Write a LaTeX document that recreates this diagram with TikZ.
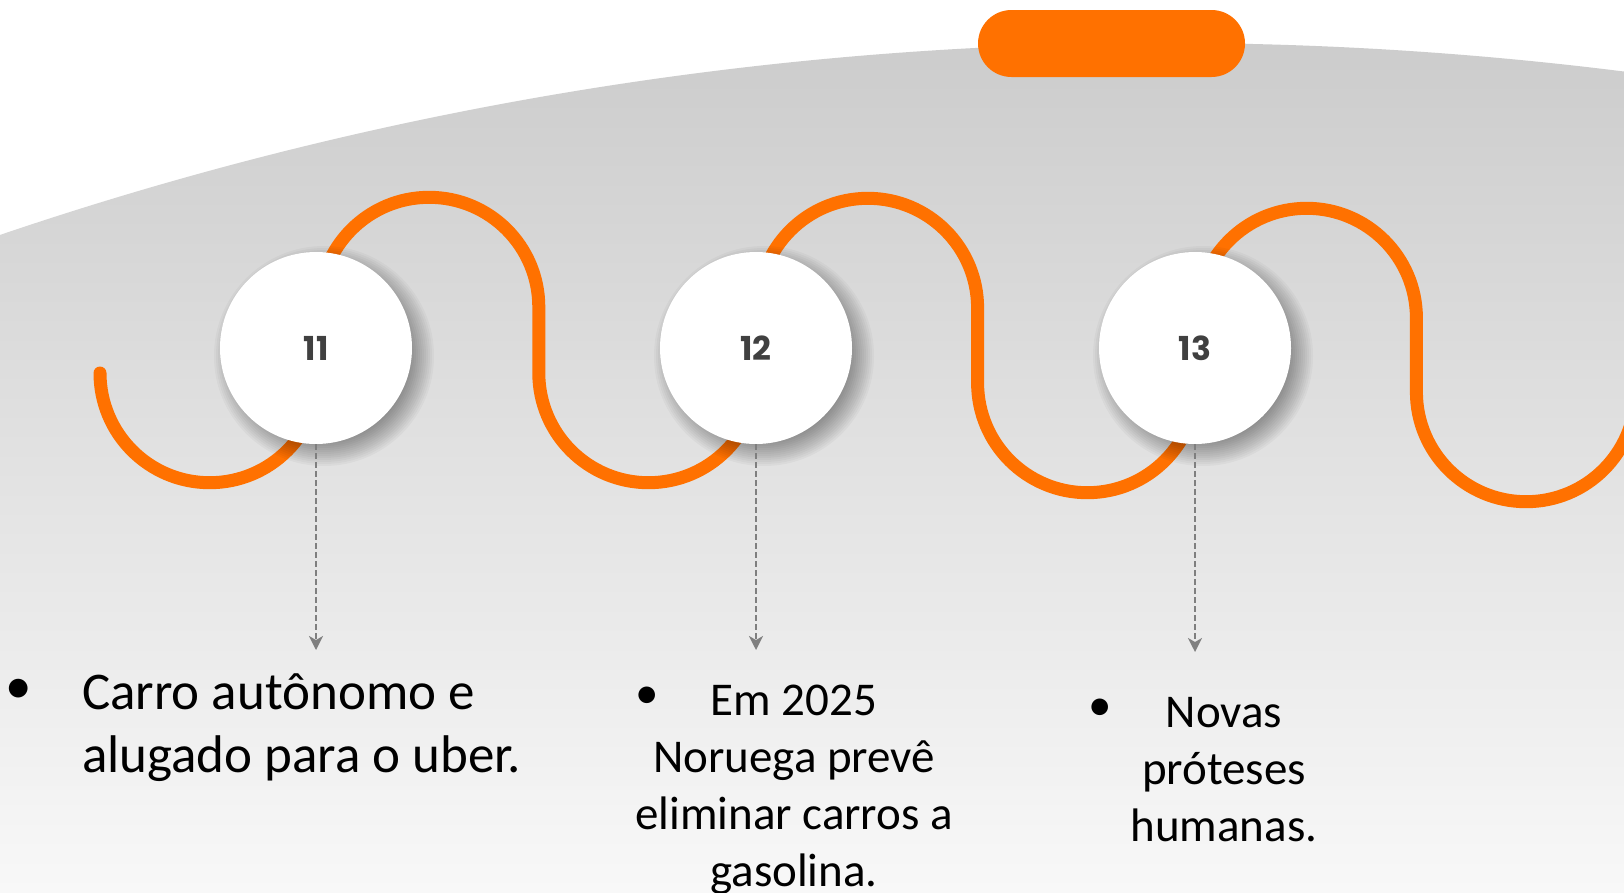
\documentclass[tikz,border=0pt]{standalone}
\usepackage{fontspec}
\setmainfont{Carlito}
\newfontfamily\numfont{Poppins}
\usetikzlibrary{calc, arrows.meta, positioning}
\definecolor{tlorange}{HTML}{FF7100}
\definecolor{tlgraytop}{HTML}{CCCCCC}
\definecolor{tlgraybot}{HTML}{F8F8F8}
\definecolor{tlnum}{HTML}{404040}
\definecolor{tlarrow}{HTML}{7F7F7F}

\begin{document}
\begin{tikzpicture}[x=1pt, y=1pt,
    wave/.style={line width=13pt, draw=tlorange, line cap=round},
    stepcircle/.style={circle, fill=white, minimum size=192pt, inner sep=0pt,
        font=\numfont\bfseries\fontsize{33}{33}\selectfont, text=tlnum},
    conn/.style={draw=tlarrow, line width=2pt, dash pattern=on 6pt off 3pt,
        -{Stealth[length=14pt, width=14pt, inset=4pt]}},
    bigtext/.style={font=\fontsize{53}{63}\selectfont, inner sep=0pt},
    smalltext/.style={font=\fontsize{47}{57}\selectfont, inner sep=0pt, align=center},
    dot/.style={inner sep=0pt}]

    % Background
    \useasboundingbox (0,0) rectangle (1624,-892);
    \fill[white] (0,0) rectangle (1624,-892);
    \begin{scope}
        \clip (1167,-3668) circle (3625);
        \shade[top color=tlgraytop, bottom color=tlgraybot] (0,-40) rectangle (1624,-892);
    \end{scope}

    % Orange tab
    \fill[tlorange, rounded corners=33.5pt] (978,-10) rectangle (1245,-77);

    % Wave
    \begin{scope}
        \clip (0,0) rectangle (1624,-892);
        \draw[wave] (100,-373) arc[start angle=180, end angle=360, radius=109.7]
            -- ++(0,66) arc[start angle=180, end angle=0, radius=109.7]
            -- ++(0,-66) arc[start angle=180, end angle=360, radius=109.7]
            -- ++(0,65) arc[start angle=180, end angle=0, radius=109.7]
            -- ++(0,-75) arc[start angle=180, end angle=360, radius=109.7]
            -- ++(0,65) arc[start angle=180, end angle=0, radius=109.7]
            -- ++(0,-74) arc[start angle=180, end angle=360, radius=109.7];
    \end{scope}

    % Circles
    \foreach \n/\x in {11/316, 12/756, 13/1195} {
        \foreach \k in {0,...,12}
            \fill[black, opacity=0.03] (\x+8,-356) circle ({86+2*\k});
        \node[stepcircle] (c\n) at (\x,-348) {\n};
    }

    % Arrows
    \coordinate (a11) at (316,-650);
    \coordinate (a12) at (756,-650);
    \coordinate (a13) at (1195,-652);
    \draw[conn] (c11.south) -- (a11);
    \draw[conn] (c12.south) -- (a12);
    \draw[conn] (c13.south) -- (a13);

    % Text 11
    \node[dot, font=\fontsize{53}{63}\selectfont] (b11) at (19,-691) {\textbullet};
    \node[bigtext, anchor=north west, align=left] (t11) at (82,-673)
        {Carro autônomo e\\alugado para o uber.};

    % Text 12
    \node[dot, font=\fontsize{47}{57}\selectfont] (b12) at (647,-698) {\textbullet};
    \node[smalltext, anchor=north] (t12) at (794,-685)
        {Em 2025\\Noruega prevê\\eliminar carros a\\gasolina.};

    % Text 13
    \node[dot, font=\fontsize{47}{57}\selectfont] (b13) at (1100,-710) {\textbullet};
    \node[smalltext, anchor=north] (t13) at (1224,-697)
        {Novas\\próteses\\humanas.};
\end{tikzpicture}
\end{document}
